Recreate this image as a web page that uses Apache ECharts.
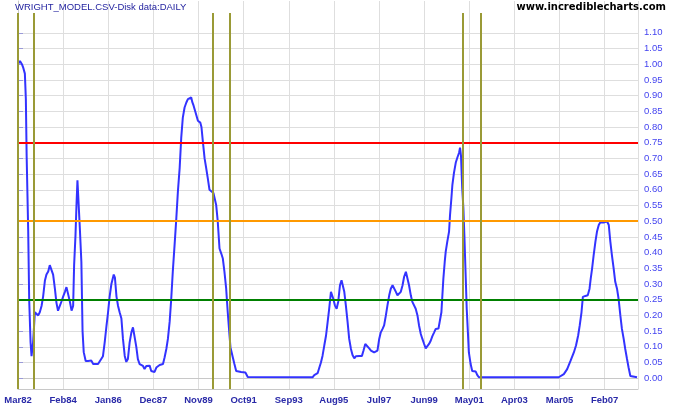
<!DOCTYPE html>
<html><head><meta charset="utf-8">
<script src="https://cdn.jsdelivr.net/npm/echarts@6/dist/echarts.min.js"></script>
<style>html,body{margin:0;padding:0;background:#fff}#c{width:675px;height:410px}</style>
</head><body><div id="c"></div>
<script>
// x = months since March 1982
const xTickLabels = ["Mar82","Feb84","Jan86","Dec87","Nov89","Oct91","Sep93","Aug95","Jul97","Jun99","May01","Apr03","Mar05","Feb07"];
const yTickValues = [0,0.05,0.1,0.15,0.2,0.25,0.3,0.35,0.4,0.45,0.5,0.55,0.6,0.65,0.7,0.75,0.8,0.85,0.9,0.95,1.0,1.05,1.1];
const thresholds = [0.75, 0.5, 0.25];
const thresholdColors = ['#ff0000', '#ff9900', '#008000'];
const cycleMarks = [0, 8, 99.2, 107.8, 226.7, 235.9];

const monthIdx = [0,1,2,2.6,3.5,4.0,4.4,5.2,5.7,6.4,6.9,7.7,8.6,9.5,10.3,11.1,12.0,12.8,13.7,14.5,15.4,16.2,17.1,17.9,18.8,19.6,20.4,21.3,22.2,23.0,23.9,24.7,25.5,26.4,27.3,28.1,28.6,29.3,29.8,30.3,31.0,31.5,32.3,32.9,33.5,34.5,35.7,37.4,38.3,40.8,41.7,43.3,44.2,45.1,45.9,46.7,47.6,48.8,49.4,50.2,51.0,51.8,52.7,53.5,54.4,55.2,56.0,56.9,57.8,58.6,59.5,60.3,61.1,62.0,63.7,64.5,65.4,67.1,67.9,69.6,70.5,72.2,73.9,74.7,75.6,76.4,77.3,78.1,78.9,79.8,80.7,81.5,82.4,83.2,84.0,84.9,85.8,86.6,87.4,88.3,88.8,89.5,90.5,91.7,92.9,93.5,94.2,95.1,95.9,96.7,97.6,98.5,99.6,100.5,101.0,101.8,102.7,103.6,104.4,105.2,106.1,106.9,107.8,108.3,109.5,110.3,111.2,113.7,115.9,117.1,150.1,151.0,152.7,153.6,154.4,155.2,156.1,157.0,157.8,158.6,159.5,160.0,160.7,161.5,162.4,163.2,164.1,164.9,165.8,166.3,167.1,168.0,168.8,169.7,170.5,171.4,172.2,173.9,175.3,176.1,177.0,177.8,179.0,179.9,181.5,183.2,184.1,184.9,185.8,186.6,187.5,188.3,189.2,190.0,190.9,191.7,192.6,193.4,194.3,195.1,196.0,196.8,197.7,198.4,199.3,200.2,201.0,201.9,202.7,203.6,204.4,205.3,206.1,207.0,207.8,208.6,209.5,210.4,211.2,212.1,212.9,214.3,215.1,215.8,216.3,216.8,217.5,218.0,218.8,219.7,220.2,220.9,221.4,222.2,223.1,223.9,224.8,225.3,225.8,226.4,227.0,227.5,228.2,228.7,229.3,229.8,230.7,231.5,233.3,234.1,234.9,275.6,276.5,278.2,279.9,281.6,283.3,284.4,285.5,286.3,287.2,287.9,289.2,290.4,291.3,291.9,292.6,293.4,294.3,295.1,296.0,296.8,298.5,300.2,301.1,301.9,302.7,303.6,304.4,305.3,306.1,307.0,307.8,308.7,309.5,310.4,311.2,312.1,312.5,315.5];
const modelValue = [1.00,1.01,1.00,0.99,0.97,0.89,0.71,0.47,0.25,0.115,0.07,0.115,0.21,0.21,0.20,0.21,0.23,0.26,0.31,0.33,0.34,0.36,0.36,0.33,0.285,0.24,0.215,0.215,0.245,0.26,0.275,0.29,0.285,0.245,0.215,0.23,0.36,0.455,0.55,0.63,0.63,0.48,0.37,0.15,0.083,0.055,0.055,0.056,0.045,0.045,0.05,0.07,0.115,0.167,0.21,0.26,0.30,0.33,0.32,0.26,0.23,0.21,0.19,0.125,0.071,0.052,0.061,0.114,0.146,0.162,0.16,0.10,0.061,0.045,0.039,0.029,0.039,0.04,0.023,0.02,0.034,0.042,0.045,0.066,0.093,0.125,0.18,0.253,0.34,0.424,0.51,0.595,0.67,0.766,0.83,0.862,0.878,0.889,0.892,0.894,0.88,0.868,0.846,0.82,0.814,0.80,0.755,0.70,0.67,0.638,0.60,0.595,0.59,0.595,0.552,0.50,0.413,0.397,0.381,0.34,0.285,0.21,0.136,0.098,0.066,0.045,0.023,0.02,0.018,0.004,0.003,0.01,0.016,0.034,0.05,0.071,0.104,0.136,0.178,0.221,0.275,0.28,0.253,0.232,0.221,0.243,0.296,0.312,0.312,0.275,0.232,0.178,0.125,0.093,0.074,0.063,0.07,0.071,0.071,0.088,0.109,0.104,0.095,0.088,0.082,0.088,0.125,0.146,0.157,0.168,0.20,0.232,0.264,0.285,0.296,0.296,0.275,0.264,0.27,0.275,0.296,0.323,0.339,0.339,0.296,0.264,0.243,0.243,0.221,0.20,0.168,0.141,0.125,0.109,0.095,0.098,0.109,0.12,0.134,0.146,0.157,0.158,0.162,0.21,0.264,0.317,0.371,0.403,0.435,0.467,0.52,0.574,0.616,0.654,0.686,0.702,0.718,0.734,0.707,0.606,0.542,0.456,0.32,0.221,0.146,0.082,0.045,0.023,0.021,0.01,0.003,0.003,0.007,0.013,0.029,0.055,0.082,0.104,0.136,0.168,0.21,0.259,0.262,0.264,0.285,0.317,0.349,0.392,0.435,0.467,0.488,0.497,0.496,0.50,0.488,0.435,0.392,0.349,0.307,0.285,0.253,0.20,0.157,0.125,0.093,0.061,0.034,0.007,0.003,0.003];

const Y_MIN = -0.0344, Y_MAX = 1.2013, MARK_TOP = 1.163;
const X_MAX = 316, X_STEP = 23;

const chart = echarts.init(document.getElementById('c'), null, {renderer: 'canvas'});
chart.setOption({
  animation: false,
  backgroundColor: '#ffffff',
  title: [
    {text: 'WRIGHT_MODEL.CSV-Disk data:DAILY', left: 15, top: 2, padding: 0,
     textStyle: {fontFamily: 'Liberation Sans', fontSize: 9.5, fontWeight: 'normal', color: '#2424a0'}},
    {text: 'www.incrediblecharts.com', right: 9, top: 2, padding: 0,
     textStyle: {fontFamily: 'DejaVu Sans', fontSize: 10, fontWeight: 'bold', color: '#000000'}}
  ],
  grid: {left: 18, right: 37, top: 1, bottom: 21, containLabel: false},
  xAxis: [{
    type: 'value', min: 0, max: X_MAX, interval: X_STEP,
    axisLine: {show: true, onZero: false, lineStyle: {color: '#c8c8c8', width: 1}},
    axisTick: {show: false},
    axisLabel: {margin: 6, fontFamily: 'Liberation Sans', fontSize: 9.5, fontWeight: 'bold', color: '#2a2aa8',
      formatter: v => (v % X_STEP === 0 && xTickLabels[v / X_STEP]) ? xTickLabels[v / X_STEP] : ''},
    splitLine: {show: true, lineStyle: {color: '#dedede', width: 1}}
  }, {
    type: 'value', position: 'top', min: 0, max: X_MAX,
    axisLine: {show: true, lineStyle: {color: '#c8c8c8'}},
    axisTick: {show: false}, axisLabel: {show: false}, splitLine: {show: false}
  }],
  yAxis: {
    type: 'value', position: 'right', min: Y_MIN, max: Y_MAX,
    axisLine: {show: true, lineStyle: {color: '#c8c8c8'}},
    axisTick: {show: true, length: 5, customValues: yTickValues, lineStyle: {color: '#9a9ad8'}},
    axisLabel: {customValues: yTickValues, margin: 6, fontFamily: 'Liberation Sans', fontSize: 9.5, color: '#4444f0',
      formatter: v => v.toFixed(2)},
    splitLine: {show: true, lineStyle: {color: '#dedede', width: 1}}
  },
  series: [{
    type: 'line', name: 'model', z: 2,
    data: monthIdx.map((m, i) => [m, modelValue[i]]),
    showSymbol: false, symbol: 'none',
    lineStyle: {color: '#3333ff', width: 2},
    itemStyle: {color: '#3333ff'}
  }, {
    type: 'line', name: 'thresholds', z: 3, data: [],
    markLine: {
      silent: true, symbol: 'none', label: {show: false}, animation: false,
      data: thresholds.map((t, i) => ({yAxis: t, lineStyle: {color: thresholdColors[i], width: 2, type: 'solid'}}))
    }
  }, {
    type: 'line', name: 'cycles', z: 4, data: [],
    markLine: {
      silent: true, symbol: 'none', label: {show: false}, animation: false,
      lineStyle: {color: '#9a9a36', width: 2, type: 'solid'},
      data: cycleMarks.map(m => [{coord: [m, MARK_TOP]}, {coord: [m, Y_MIN]}])
    }
  }]
});
</script>
</body></html>
